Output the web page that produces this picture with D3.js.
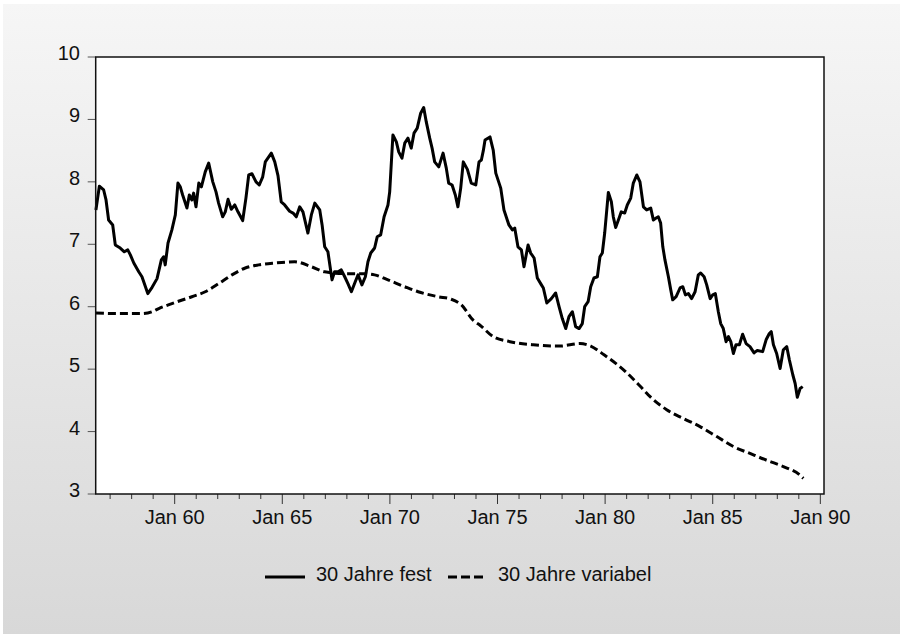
<!DOCTYPE html>
<html>
<head>
<meta charset="utf-8">
<script src="https://cdn.jsdelivr.net/npm/d3@7"></script>
<style>
  body { margin: 0; background: #fff; }
  svg text { font-family: "Liberation Sans", Arial, sans-serif; fill: #111; }
</style>
</head>
<body>
<svg id="chart" width="903" height="637"></svg>
<script>
// 30 Jahre fest: [decimal year, rate]
var festData = [
  [1956.34,7.55],[1956.50,7.93],[1956.70,7.87],[1956.81,7.71],[1956.93,7.39],[1957.12,7.31],
  [1957.24,6.99],[1957.47,6.94],[1957.66,6.88],[1957.82,6.91],[1957.94,6.83],[1958.10,6.70],
  [1958.33,6.56],[1958.48,6.48],[1958.75,6.21],[1958.95,6.31],[1959.18,6.45],[1959.38,6.75],
  [1959.49,6.80],[1959.56,6.67],[1959.69,7.02],[1959.87,7.23],[1960.03,7.47],[1960.15,7.98],
  [1960.26,7.92],[1960.37,7.79],[1960.57,7.58],[1960.68,7.79],[1960.80,7.71],[1960.88,7.82],
  [1960.99,7.60],[1961.12,7.98],[1961.24,7.92],[1961.42,8.16],[1961.58,8.30],[1961.77,8.00],
  [1961.92,7.84],[1962.04,7.66],[1962.23,7.44],[1962.35,7.52],[1962.48,7.72],[1962.63,7.56],
  [1962.79,7.63],[1962.94,7.52],[1963.16,7.38],[1963.31,7.74],[1963.44,8.11],[1963.59,8.13],
  [1963.78,8.00],[1963.93,7.95],[1964.09,8.08],[1964.21,8.32],[1964.37,8.40],[1964.49,8.46],
  [1964.65,8.32],[1964.80,8.10],[1964.95,7.68],[1965.11,7.63],[1965.34,7.53],[1965.50,7.50],
  [1965.65,7.44],[1965.81,7.60],[1965.96,7.52],[1966.19,7.18],[1966.35,7.47],[1966.51,7.66],
  [1966.74,7.55],[1966.85,7.31],[1966.97,6.96],[1967.12,6.88],[1967.31,6.43],[1967.43,6.56],
  [1967.59,6.56],[1967.74,6.59],[1967.90,6.48],[1968.05,6.37],[1968.21,6.24],[1968.39,6.40],
  [1968.52,6.51],[1968.70,6.35],[1968.86,6.48],[1968.98,6.72],[1969.11,6.86],[1969.29,6.94],
  [1969.41,7.12],[1969.57,7.15],[1969.73,7.44],[1969.91,7.63],[1969.99,7.84],[1970.14,8.75],
  [1970.30,8.64],[1970.41,8.48],[1970.56,8.38],[1970.69,8.62],[1970.84,8.70],[1970.99,8.54],
  [1971.12,8.78],[1971.27,8.86],[1971.43,9.10],[1971.57,9.19],[1971.69,8.96],[1971.85,8.70],
  [1971.96,8.54],[1972.08,8.32],[1972.27,8.24],[1972.47,8.46],[1972.62,8.22],[1972.73,7.98],
  [1972.89,7.95],[1973.04,7.79],[1973.16,7.60],[1973.29,7.90],[1973.41,8.32],[1973.60,8.20],
  [1973.78,7.98],[1973.99,7.95],[1974.14,8.32],[1974.25,8.35],[1974.34,8.50],[1974.42,8.67],
  [1974.65,8.72],[1974.80,8.51],[1974.92,8.14],[1975.15,7.90],[1975.30,7.55],[1975.53,7.31],
  [1975.69,7.23],[1975.80,7.26],[1975.95,6.96],[1976.11,6.91],[1976.23,6.64],[1976.42,6.99],
  [1976.54,6.86],[1976.70,6.78],[1976.85,6.46],[1977.04,6.35],[1977.13,6.30],[1977.29,6.06],
  [1977.50,6.13],[1977.70,6.22],[1977.86,6.00],[1978.01,5.81],[1978.17,5.65],[1978.32,5.84],
  [1978.48,5.92],[1978.63,5.68],[1978.79,5.65],[1978.94,5.73],[1979.05,6.00],[1979.21,6.08],
  [1979.33,6.32],[1979.48,6.46],[1979.64,6.48],[1979.76,6.80],[1979.87,6.86],[1979.98,7.18],
  [1980.15,7.83],[1980.29,7.68],[1980.38,7.44],[1980.49,7.27],[1980.65,7.42],[1980.75,7.52],
  [1980.91,7.50],[1981.03,7.63],[1981.19,7.74],[1981.31,7.98],[1981.47,8.11],[1981.62,8.00],
  [1981.78,7.60],[1981.93,7.55],[1982.12,7.58],[1982.24,7.39],[1982.37,7.42],[1982.47,7.44],
  [1982.58,7.34],[1982.68,6.96],[1982.78,6.75],[1982.94,6.48],[1983.05,6.27],[1983.14,6.11],
  [1983.30,6.16],[1983.48,6.30],[1983.61,6.32],[1983.73,6.19],[1983.87,6.21],[1984.02,6.13],
  [1984.18,6.24],[1984.33,6.51],[1984.44,6.54],[1984.60,6.48],[1984.72,6.35],[1984.88,6.13],
  [1985.00,6.19],[1985.12,6.21],[1985.26,5.92],[1985.37,5.73],[1985.49,5.65],[1985.62,5.44],
  [1985.73,5.52],[1985.84,5.44],[1985.96,5.25],[1986.08,5.39],[1986.24,5.39],[1986.39,5.56],
  [1986.55,5.41],[1986.73,5.36],[1986.92,5.26],[1987.07,5.30],[1987.32,5.28],[1987.48,5.47],
  [1987.63,5.57],[1987.72,5.60],[1987.82,5.39],[1987.97,5.25],[1988.13,5.01],[1988.28,5.31],
  [1988.44,5.36],[1988.56,5.15],[1988.72,4.91],[1988.83,4.77],[1988.93,4.55],[1989.06,4.69],
  [1989.18,4.72]
];

// 30 Jahre variabel: [decimal year, rate]
var variabelData = [
  [1956.34,5.90],[1957.40,5.89],[1958.48,5.89],[1958.95,5.92],[1959.26,5.97],[1959.87,6.05],
  [1960.80,6.16],[1961.42,6.24],[1962.04,6.37],[1962.66,6.51],[1963.28,6.62],[1963.90,6.67],
  [1964.67,6.70],[1965.58,6.72],[1966.35,6.64],[1966.97,6.56],[1967.90,6.53],[1968.67,6.53],
  [1969.29,6.51],[1969.91,6.43],[1970.69,6.32],[1971.31,6.24],[1972.24,6.16],[1972.85,6.12],
  [1973.32,6.03],[1973.88,5.78],[1974.20,5.70],[1974.80,5.52],[1975.58,5.44],[1976.66,5.39],
  [1977.90,5.37],[1978.83,5.41],[1979.33,5.37],[1979.95,5.23],[1980.92,4.97],[1981.62,4.73],
  [1982.09,4.56],[1982.86,4.35],[1983.63,4.21],[1984.41,4.08],[1985.19,3.92],[1985.96,3.76],
  [1986.73,3.65],[1987.51,3.54],[1988.28,3.44],[1989.06,3.30],[1989.21,3.25]
];

var yTicks = [3, 4, 5, 6, 7, 8, 9, 10];
var minorYears = d3.range(1957, 1991);
var majorYears = [1960, 1965, 1970, 1975, 1980, 1985, 1990];
var seriesNames = ["30 Jahre fest", "30 Jahre variabel"];

var svg = d3.select("#chart");

// background gradient
var grad = svg.append("defs").append("linearGradient")
  .attr("id", "bg").attr("x1", 0).attr("y1", 0).attr("x2", 0).attr("y2", 1);
grad.append("stop").attr("offset", "0%").attr("stop-color", "#f6f6f6");
grad.append("stop").attr("offset", "100%").attr("stop-color", "#d8d8d8");
svg.append("rect").attr("x", 3).attr("y", 4).attr("width", 897).attr("height", 630)
  .attr("fill", "url(#bg)");

var plotL = 95.7, plotR = 824, plotT = 57, plotB = 494;

var x = d3.scaleLinear().domain([1956.33, 1990.17]).range([plotL, plotR]);
var y = d3.scaleLinear().domain([3, 10]).range([plotB, plotT]);

svg.append("rect").attr("x", plotL).attr("y", plotT)
  .attr("width", plotR - plotL).attr("height", plotB - plotT)
  .attr("fill", "#fff");

// y axis ticks + labels
svg.selectAll(".ytick").data(yTicks).enter().append("line")
  .attr("x1", plotL - 8).attr("x2", plotL)
  .attr("y1", function(d){ return y(d); }).attr("y2", function(d){ return y(d); })
  .attr("stroke", "#555").attr("stroke-width", 1);
svg.selectAll(".ylab").data(yTicks).enter().append("text")
  .attr("x", 80).attr("y", function(d){ return y(d) + 3; })
  .attr("text-anchor", "end").style("font-size", "20px")
  .text(function(d){ return d; });

// x axis ticks + labels
svg.selectAll(".xminor").data(minorYears).enter().append("line")
  .attr("x1", function(d){ return x(d); }).attr("x2", function(d){ return x(d); })
  .attr("y1", plotB)
  .attr("y2", function(d){ return majorYears.indexOf(d) >= 0 ? plotB + 10 : plotB + 5; })
  .attr("stroke", "#333").attr("stroke-width", 1);
svg.selectAll(".xlab").data(majorYears).enter().append("text")
  .attr("x", function(d){ return x(d); }).attr("y", plotB + 30)
  .attr("text-anchor", "middle").style("font-size", "20px")
  .text(function(d){ return "Jan " + String(d % 100).padStart(2, "0"); });

// lines
var lineFest = d3.line().x(function(d){ return x(d[0]); }).y(function(d){ return y(d[1]); });
var lineVar = d3.line().curve(d3.curveMonotoneX)
  .x(function(d){ return x(d[0]); }).y(function(d){ return y(d[1]); });

svg.append("path").datum(variabelData).attr("d", lineVar)
  .attr("fill", "none").attr("stroke", "#000").attr("stroke-width", 3)
  .attr("stroke-dasharray", "8,4");
svg.append("path").datum(festData).attr("d", lineFest)
  .attr("fill", "none").attr("stroke", "#000").attr("stroke-width", 3)
  .attr("stroke-linejoin", "round");

// plot frame
svg.append("rect").attr("x", plotL).attr("y", plotT)
  .attr("width", plotR - plotL).attr("height", plotB - plotT)
  .attr("fill", "none").attr("stroke", "#111").attr("stroke-width", 1.5);

// legend
var legend = [
  { name: seriesNames[0], x1: 265, x2: 305, tx: 316, dash: null },
  { name: seriesNames[1], x1: 448, x2: 484, tx: 498, dash: "9,4" }
];
legend.forEach(function(l){
  svg.append("line").attr("x1", l.x1).attr("x2", l.x2).attr("y1", 577).attr("y2", 577)
    .attr("stroke", "#000").attr("stroke-width", 3)
    .attr("stroke-dasharray", l.dash);
  svg.append("text").attr("x", l.tx).attr("y", 581).style("font-size", "20px").text(l.name);
});
</script>
</body>
</html>
